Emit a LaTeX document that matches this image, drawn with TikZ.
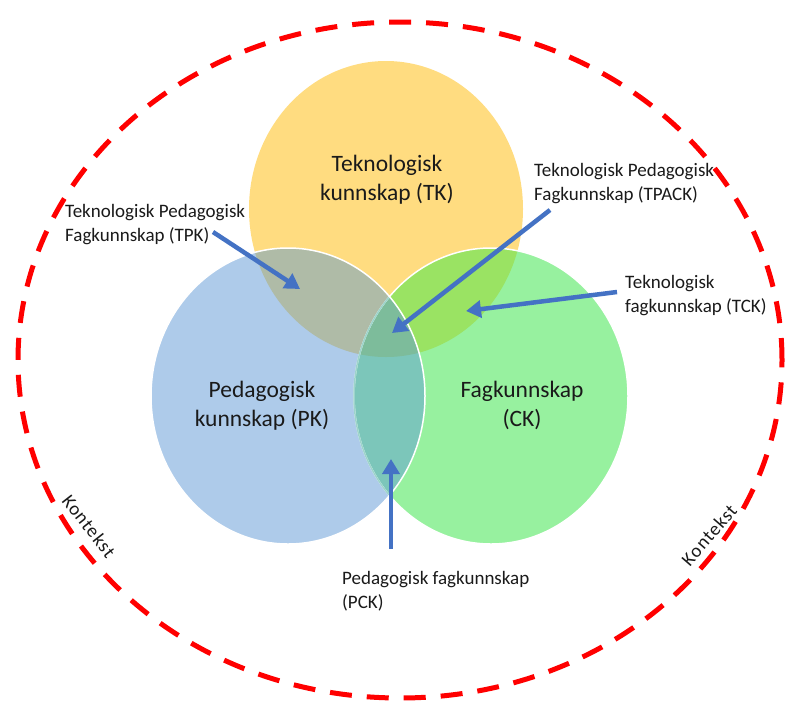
\documentclass[tikz,border=0pt]{standalone}
\usepackage{fontspec}
\setmainfont{Carlito}
\usetikzlibrary{arrows.meta}
\definecolor{cY}{HTML}{FFDC80}
\definecolor{cB}{HTML}{AECBEA}
\definecolor{cG}{HTML}{97F19F}
\definecolor{cYB}{HTML}{AFBBA7}
\definecolor{cYG}{HTML}{9AE363}
\definecolor{cBG}{HTML}{7CC6BA}
\definecolor{cYBG}{HTML}{7DBC9B}
\definecolor{arrblue}{HTML}{4472C4}
\definecolor{ringred}{HTML}{FF0000}
\definecolor{txt}{HTML}{1A1A1A}
\tikzset{
  ring/.style={draw=ringred, line width=5pt, dash pattern=on 22pt off 15pt},
  smalllab/.style={font=\fontsize{19}{24.5}\selectfont, text=txt, align=left, inner sep=0pt, anchor=north west},
  biglab/.style={font=\fontsize{23.5}{28.5}\selectfont, text=txt, align=center, inner sep=0pt, anchor=north},
  ctxlab/.style={font=\fontsize{19}{22}\selectfont\addfontfeature{LetterSpace=5}, text=txt, inner sep=0pt},
  arr/.style={draw=arrblue, line width=4.5pt, -{Triangle[length=15pt,width=17pt]}},
  rim/.style={draw=white, line width=1.5pt}
}
\begin{document}
\begin{tikzpicture}[x=1pt,y=-1pt]
\useasboundingbox (0,0) rectangle (789,702);
\fill[white] (0,0) rectangle (789,702);
% centres
\coordinate (cT) at (386,209);
\coordinate (cP) at (288,396);
\coordinate (cC) at (491,396);
% base fills
\fill[cY] (cT) ellipse [x radius=137pt, y radius=148pt];
\fill[cG] (cC) ellipse [x radius=137pt, y radius=148pt];
\fill[cB] (cP) ellipse [x radius=137pt, y radius=148pt];
% pairwise overlaps
\begin{scope}
  \clip (cT) ellipse [x radius=137pt, y radius=148pt];
  \fill[cYB] (cP) ellipse [x radius=137pt, y radius=148pt];
  \fill[cYG] (cC) ellipse [x radius=137pt, y radius=148pt];
\end{scope}
\begin{scope}
  \clip (cP) ellipse [x radius=137pt, y radius=148pt];
  \fill[cBG] (cC) ellipse [x radius=137pt, y radius=148pt];
\end{scope}
\begin{scope}
  \clip (cT) ellipse [x radius=137pt, y radius=148pt];
  \clip (cP) ellipse [x radius=137pt, y radius=148pt];
  \fill[cYBG] (cC) ellipse [x radius=137pt, y radius=148pt];
\end{scope}
% outlines
\draw[rim] (cC) ellipse [x radius=137pt, y radius=148pt];
\begin{scope}
  \clip (cP) ellipse [x radius=137pt, y radius=148pt];
  \draw[draw=white!25!cBG, line width=1.5pt] (cC) ellipse [x radius=137pt, y radius=148pt];
\end{scope}
\draw[rim] (cP) ellipse [x radius=137pt, y radius=148pt];
% context ring
\coordinate (cR) at (400,360);
\draw[ring] (cR) ellipse [x radius=382pt, y radius=338pt];
% big labels
\node[biglab] (tk) at (387,155) {Teknologisk\\kunnskap (TK)};
\node[biglab] (pk) at (262,381) {Pedagogisk\\kunnskap (PK)};
\node[biglab] (ck) at (522,381) {Fagkunnskap\\(CK)};
% small labels
\node[smalllab] (tpk) at (65,204) {Teknologisk Pedagogisk\\Fagkunnskap (TPK)};
\node[smalllab] (tpack) at (534,163) {Teknologisk Pedagogisk\\Fagkunnskap (TPACK)};
\node[smalllab] (tck) at (625,275) {Teknologisk\\fagkunnskap (TCK)};
\node[smalllab] (pck) at (342,571) {Pedagogisk fagkunnskap\\(PCK)};
% context labels
\node[ctxlab, rotate=-52] (ctxl) at (89,526) {Kontekst};
\node[ctxlab, rotate=49] (ctxr) at (709,535) {Kontekst};
% arrow endpoints
\coordinate (tpkS) at (213,232);
\coordinate (tpkE) at (300,289);
\coordinate (tpackS) at (550,210);
\coordinate (tpackE) at (392,333);
\coordinate (tckS) at (617,292);
\coordinate (tckE) at (466,311);
\coordinate (pckS) at (391,549);
\coordinate (pckE) at (391,459);
\draw[arr] (tpkS) -- (tpkE);
\draw[arr] (tpackS) -- (tpackE);
\draw[arr] (tckS) -- (tckE);
\draw[arr] (pckS) -- (pckE);
\end{tikzpicture}
\end{document}
